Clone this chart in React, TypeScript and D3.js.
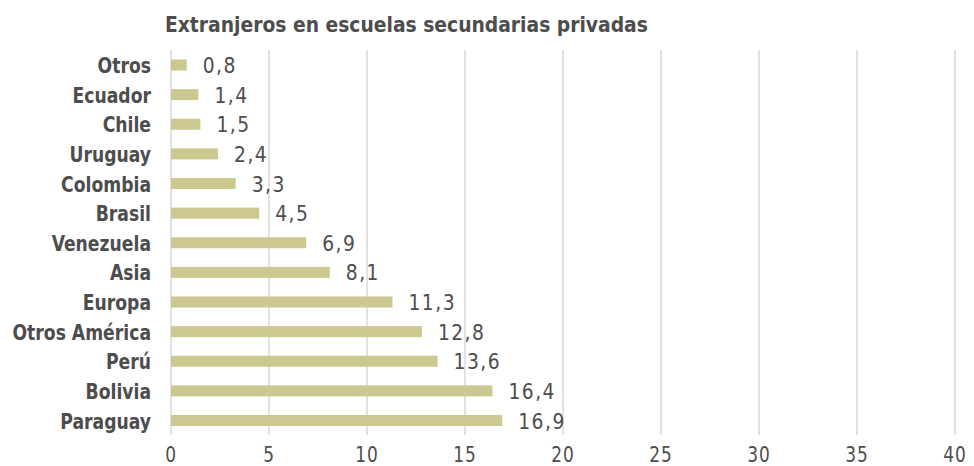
import React from "react";
import * as d3 from "d3";

const categories = ["Otros", "Ecuador", "Chile", "Uruguay", "Colombia", "Brasil", "Venezuela", "Asia", "Europa", "Otros América", "Perú", "Bolivia", "Paraguay"];
const values = [0.8, 1.4, 1.5, 2.4, 3.3, 4.5, 6.9, 8.1, 11.3, 12.8, 13.6, 16.4, 16.9];
const ticks = [0, 5, 10, 15, 20, 25, 30, 35, 40];
const title = "Extranjeros en escuelas secundarias privadas";

const W = 974, H = 466;
const FONT = "'DejaVu Sans Condensed', 'DejaVu Sans', sans-serif";
const TXT = "#4d4d4d";

export default function App() {
  const x = d3.scaleLinear().domain([0, 40]).range([171, 955]);
  const y = d3.scalePoint().domain(categories).range([65, 420.5]);
  const bh = 11;
  const fmt = (v: number) => v.toFixed(1).replace(".", ",");
  return (
    <svg width={W} height={H} style={{ position: "absolute", left: 0, top: 0 }}>
      <rect width={W} height={H} fill="#fff" />
      <text transform={`translate(165,32) scale(0.947,1)`} fontFamily={FONT} fontStretch="condensed" fontWeight="bold" fontSize={22} fill={TXT}>{title}</text>
      {ticks.map(t => (
        <g key={t}>
          <line x1={x(t)} x2={x(t)} y1={50} y2={435} stroke="#d9d9d9" strokeWidth={1.5} />
          <text transform={`translate(${x(t)},462) scale(0.9,1)`} textAnchor="middle" fontFamily={FONT} fontStretch="condensed" fontSize={21} fill={TXT} letterSpacing={1}>{t}</text>
        </g>
      ))}
      {categories.map((c, i) => {
        const cy = y(c)!;
        return (
          <g key={c}>
            <rect x={x(0)} y={cy - bh / 2} width={x(values[i]) - x(0)} height={bh} fill="#cbc98f" />
            <text transform={`translate(151,${cy + 8}) scale(0.87,1)`} textAnchor="end" fontFamily={FONT} fontStretch="condensed" fontWeight="bold" fontSize={22} fill={TXT}>{c}</text>
            <text transform={`translate(${x(values[i]) + 16},${cy + 8}) scale(0.99,1)`} fontFamily={FONT} fontStretch="condensed" fontSize={21} fill={TXT} letterSpacing={1.5}>{fmt(values[i])}</text>
          </g>
        );
      })}
    </svg>
  );
}
